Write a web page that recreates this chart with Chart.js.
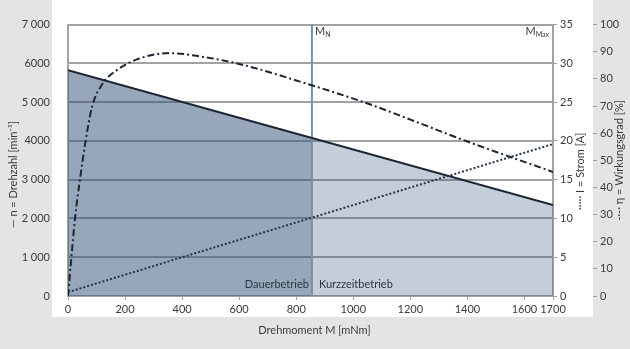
<!DOCTYPE html>
<html>
<head>
<meta charset="utf-8">
<script src="https://cdn.jsdelivr.net/npm/chart.js@4.4.0/dist/chart.umd.min.js"></script>
<style>
  html, body { margin: 0; padding: 0; background: #e4e4e4; }
  #wrap { width: 630px; height: 349px; }
</style>
</head>
<body>
<div id="wrap"><canvas id="motorChart" width="630" height="349"></canvas></div>
<script>
// torque axis [mNm]
const torqueTicks = [0, 200, 400, 600, 800, 1000, 1200, 1400, 1600, 1700];
const speedLabels = ['0', '1 000', '2 000', '3 000', '4000', '5 000', '6000', '7 000'];

const ratedTorque = 855;
const maxTorque = 1700;

// speed n [min-1], split at rated torque (continuous / short-time duty)
const speedContinuous = [[0, 5825], [855, 4075]];
const speedShortTime = [[855, 4075], [1700, 2345]];

// current I [A]
const current = [[0, 0.5], [1700, 19.6]];

// efficiency eta [%]
const efficiency = [
  [0, 0], [10, 12], [25, 29], [42, 43], [60, 56], [85, 70], [120, 78],
  [175, 83.5], [250, 87.5], [357, 89.5], [450, 88.5], [600, 85.5],
  [813, 79], [1048, 71], [1200, 65], [1398, 57], [1700, 45.7],
];

const toXY = arr => arr.map(p => ({ x: p[0], y: p[1] }));

const lineColor = '#1c2534';
const gridColor = '#a2a2a2';
const textColor = '#3a3a3a';

Chart.defaults.font.family = 'Lato';
Chart.defaults.font.size = 11;
Chart.defaults.color = textColor;

function rotated(ctx, text, x, y) {
  ctx.save();
  ctx.translate(x, y);
  ctx.rotate(-Math.PI / 2);
  ctx.textAlign = 'center';
  ctx.textBaseline = 'middle';
  ctx.fillText(text, 0, 0);
  ctx.restore();
}

const decorations = {
  id: 'decorations',
  beforeDraw(chart) {
    const { ctx, chartArea: a } = chart;
    ctx.save();
    ctx.fillStyle = '#e4e4e4';
    ctx.fillRect(0, 0, chart.width, chart.height);
    ctx.fillStyle = '#ffffff';
    ctx.fillRect(a.left - 16, 0, a.right + 40 - (a.left - 16), a.bottom + 21);
    ctx.restore();
  },
  beforeDatasetsDraw(chart) {
    const { ctx, chartArea: a, scales } = chart;
    const xN = scales.x.getPixelForValue(ratedTorque);
    ctx.save();
    ctx.strokeStyle = '#7990a8';
    ctx.lineWidth = 2;
    ctx.beginPath();
    ctx.moveTo(xN, a.top);
    ctx.lineTo(xN, a.bottom);
    ctx.stroke();
    ctx.restore();
  },
  afterDraw(chart) {
    const { ctx, chartArea: a, scales } = chart;
    const xN = scales.x.getPixelForValue(ratedTorque);
    const xMax = scales.x.getPixelForValue(maxTorque);
    ctx.save();
    ctx.fillStyle = textColor;
    ctx.font = '11px Lato';
    ctx.textBaseline = 'alphabetic';

    // M_N and M_Max
    ctx.textAlign = 'left';
    ctx.fillText('M', xN + 3, a.top + 10);
    let w = ctx.measureText('M').width;
    ctx.font = '7px Lato';
    ctx.fillText('N', xN + 3 + w, a.top + 12);
    const wMax = ctx.measureText('Max').width;
    ctx.fillText('Max', xMax - 4 - wMax, a.top + 12);
    ctx.font = '11px Lato';
    w = ctx.measureText('M').width;
    ctx.fillText('M', xMax - 4 - wMax - w, a.top + 10);

    // duty regions
    ctx.fillStyle = '#2a3646';
    ctx.textAlign = 'right';
    ctx.fillText('Dauerbetrieb', xN - 3, a.bottom - 8);
    ctx.textAlign = 'left';
    ctx.fillText('Kurzzeitbetrieb', xN + 7, a.bottom - 8);

    // axis titles
    ctx.fillStyle = textColor;
    ctx.font = '11px Lato';
    ctx.textAlign = 'center';
    ctx.fillText('Drehmoment M [mNm]', (a.left + a.right) / 2 + 4, a.bottom + 38);
    rotated(ctx, '— n = Drehzahl [min⁻¹]', a.left - 55, chart.height / 2);
    rotated(ctx, '····· I = Strom [A]', a.right + 27, (a.top + a.bottom) / 2 + 11);
    rotated(ctx, '-·-· η = Wirkungsgrad [%]', a.right + 66, (a.top + a.bottom) / 2);
    ctx.restore();
  },
};

const chartData = {
  datasets: [
    {
      label: 'I',
      data: toXY(current),
      yAxisID: 'yI',
      borderColor: '#25344a',
      borderWidth: 2,
      borderDash: [2, 2],
      pointRadius: 0,
      fill: false,
    },
    {
      label: 'eta',
      data: toXY(efficiency),
      yAxisID: 'yEta',
      borderColor: lineColor,
      borderWidth: 2,
      borderDash: [7, 3, 2, 3],
      pointRadius: 0,
      cubicInterpolationMode: 'monotone',
      fill: false,
    },
    {
      label: 'n Dauerbetrieb',
      data: toXY(speedContinuous),
      yAxisID: 'yN',
      borderColor: lineColor,
      borderWidth: 2,
      pointRadius: 0,
      fill: 'origin',
      backgroundColor: 'rgba(47, 79, 115, 0.5)',
    },
    {
      label: 'n Kurzzeitbetrieb',
      data: toXY(speedShortTime),
      yAxisID: 'yN',
      borderColor: lineColor,
      borderWidth: 2,
      pointRadius: 0,
      fill: 'origin',
      backgroundColor: 'rgba(47, 79, 115, 0.28)',
    },
  ],
};

const config = {
  type: 'line',
  data: chartData,
  plugins: [decorations],
  options: {
    responsive: false,
    animation: false,
    devicePixelRatio: 1,
    layout: { padding: { top: 16, left: 0, right: 0, bottom: 0 } },
    plugins: {
      legend: { display: false },
      tooltip: { enabled: false },
      filler: { drawTime: 'beforeDatasetsDraw' },
    },
    scales: {
      x: {
        type: 'linear',
        min: 0,
        max: maxTorque,
        afterBuildTicks: scale => { scale.ticks = torqueTicks.map(v => ({ value: v })); },
        afterFit: scale => { scale.height = 53; },
        ticks: { callback: v => String(v), padding: 3, maxRotation: 0, autoSkip: false },
        grid: { drawOnChartArea: false, tickLength: 4, color: gridColor },
        border: { display: false },
      },
      yN: {
        position: 'left',
        min: 0,
        max: 7000,
        afterFit: scale => { scale.width = 68; },
        ticks: { stepSize: 1000, padding: 18, callback: v => speedLabels[v / 1000] },
        grid: { color: gridColor, lineWidth: 2, drawTicks: false },
        border: { color: gridColor, width: 2 },
      },
      yI: {
        position: 'right',
        min: 0,
        max: 35,
        afterFit: scale => { scale.width = 40; },
        ticks: { stepSize: 5, padding: 3 },
        grid: { drawOnChartArea: false, tickLength: 4, color: gridColor },
        border: { color: gridColor, width: 2 },
      },
      yEta: {
        position: 'right',
        min: 0,
        max: 100,
        afterFit: scale => { scale.width = 37; },
        ticks: { stepSize: 10, padding: 3 },
        grid: { drawOnChartArea: false, tickLength: 4, color: gridColor },
        border: { display: false },
      },
    },
  },
};

new Chart(document.getElementById('motorChart'), config);
</script>
</body>
</html>
